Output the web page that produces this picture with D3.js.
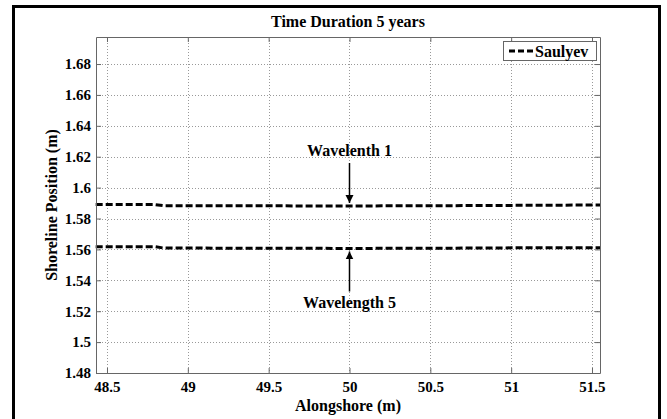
<!DOCTYPE html>
<html><head><meta charset="utf-8">
<script src="https://cdn.jsdelivr.net/npm/d3@7"></script>
<style>
html,body{margin:0;padding:0;background:#fff;}
svg{display:block;}
svg text{font-family:"Liberation Serif","Tinos","Times New Roman","DejaVu Serif",serif !important;font-weight:bold;fill:#000;}
</style></head>
<body>
<script>
// ---- data ----
const alongshore = [48.43, 48.6, 48.8, 48.85, 49.0, 49.2, 49.4, 49.6, 49.8, 50.0, 50.2, 50.4, 50.6, 50.8, 51.0, 51.2, 51.4, 51.55];
const wavelength1 = [1.5890, 1.5890, 1.5890, 1.5883, 1.5883, 1.5882, 1.5882, 1.5882, 1.5881, 1.5881, 1.5882, 1.5882, 1.5883, 1.5884, 1.5885, 1.5886, 1.5887, 1.5888];
const wavelength5 = [1.5617, 1.5617, 1.5617, 1.5609, 1.5609, 1.5608, 1.5607, 1.5607, 1.5607, 1.5606, 1.5607, 1.5607, 1.5608, 1.5609, 1.5610, 1.5610, 1.5611, 1.5611];
const xTicks = [48.5, 49, 49.5, 50, 50.5, 51, 51.5];
const yTicks = [1.48, 1.5, 1.52, 1.54, 1.56, 1.58, 1.6, 1.62, 1.64, 1.66, 1.68];
const xDomain = [48.432, 51.5495];
const yDomain = [1.48, 1.6975];
const titleText = "Time Duration 5 years";
const xLabel = "Alongshore (m)";
const yLabel = "Shoreline Position (m)";
const legendLabel = "Saulyev";
const annotations = [
  {label: "Wavelenth 1", x: 50, y: 1.5881, dir: "above"},
  {label: "Wavelength 5", x: 50, y: 1.5606, dir: "below"}
];

// ---- layout ----
const W = 667, H = 419;
const m = {left: 96, right: 600, top: 37, bottom: 373};
const FONT = "'Liberation Serif', Tinos, 'Times New Roman', 'DejaVu Serif', serif";

const svg = d3.select("body").append("svg").attr("width", W).attr("height", H)
  .style("font-family", FONT);

// outer frame
svg.append("rect").attr("x", 13.5).attr("y", 6.5).attr("width", 646).attr("height", 430)
  .attr("fill", "none").attr("stroke", "#000").attr("stroke-width", 3);

const x = d3.scaleLinear().domain(xDomain).range([m.left, m.right]);
const y = d3.scaleLinear().domain(yDomain).range([m.bottom, m.top]);

const g = svg.append("g");

// grid
g.selectAll(".gx").data(xTicks).join("line")
  .attr("x1", d => Math.round(x(d)) + 0.5).attr("x2", d => Math.round(x(d)) + 0.5)
  .attr("y1", m.top).attr("y2", m.bottom)
  .attr("stroke", "#999").attr("stroke-width", 1).attr("stroke-dasharray", "1,2");
g.selectAll(".gy").data(yTicks).join("line")
  .attr("y1", d => Math.round(y(d)) + 0.5).attr("y2", d => Math.round(y(d)) + 0.5)
  .attr("x1", m.left).attr("x2", m.right)
  .attr("stroke", "#999").attr("stroke-width", 1).attr("stroke-dasharray", "1,2");

// axes
const axColor = "#666";
const bottomAxis = d3.axisBottom(x).tickValues(xTicks).tickFormat(d3.format("")).tickSizeInner(-5).tickSizeOuter(0).tickPadding(8);
const leftAxis = d3.axisLeft(y).tickValues(yTicks).tickFormat(d3.format("")).tickSizeInner(-5).tickSizeOuter(0).tickPadding(5);
const topAxis = d3.axisTop(x).tickValues(xTicks).tickFormat("").tickSizeInner(-5).tickSizeOuter(0);
const rightAxis = d3.axisRight(y).tickValues(yTicks).tickFormat("").tickSizeInner(-5).tickSizeOuter(0);

function styleAxis(sel) {
  sel.attr("font-family", null).attr("font-size", null);
  sel.selectAll("path").attr("stroke", axColor);
  sel.selectAll("line").attr("stroke", axColor);
  sel.selectAll("text").style("font-size", "15px").style("font-family", FONT).style("font-weight", "bold").attr("fill", "#000");
}
styleAxis(svg.append("g").attr("transform", `translate(0,${m.bottom})`).call(bottomAxis));
styleAxis(svg.append("g").attr("transform", `translate(${m.left},0)`).call(leftAxis));
styleAxis(svg.append("g").attr("transform", `translate(0,${m.top})`).call(topAxis));
styleAxis(svg.append("g").attr("transform", `translate(${m.right},0)`).call(rightAxis));

// lines
const line = d3.line().x((d, i) => x(alongshore[i])).y(d => y(d));
[wavelength1, wavelength5].forEach(series => {
  g.append("path").datum(series).attr("d", line)
    .attr("fill", "none").attr("stroke", "#000").attr("stroke-width", 3)
    .attr("stroke-dasharray", "7,3");
});

// annotations with arrows
const defs = svg.append("defs");
defs.append("marker").attr("id", "arr").attr("viewBox", "0 0 10 10").attr("refX", 10).attr("refY", 5)
  .attr("markerWidth", 8).attr("markerHeight", 10).attr("markerUnits", "userSpaceOnUse").attr("orient", "auto")
  .append("path").attr("d", "M0,0 L10,5 L0,10 Z").attr("fill", "#000");

function txt(sel) { return sel.style("font-family", FONT).style("font-weight", "bold").style("font-size", "16px"); }

annotations.forEach(a => {
  const ax = x(a.x), ay = y(a.y);
  if (a.dir === "above") {
    svg.append("line").attr("x1", ax).attr("x2", ax).attr("y1", ay - 43).attr("y2", ay - 3)
      .attr("stroke", "#000").attr("stroke-width", 1.5).attr("marker-end", "url(#arr)");
    txt(svg.append("text").attr("x", ax).attr("y", ay - 50).attr("text-anchor", "middle")).text(a.label);
  } else {
    svg.append("line").attr("x1", ax).attr("x2", ax).attr("y1", ay + 43).attr("y2", ay + 3)
      .attr("stroke", "#000").attr("stroke-width", 1.5).attr("marker-end", "url(#arr)");
    txt(svg.append("text").attr("x", ax).attr("y", ay + 60).attr("text-anchor", "middle")).text(a.label);
  }
});

// legend
const lg = svg.append("g");
lg.append("rect").attr("x", 503.5).attr("y", 41.5).attr("width", 93).attr("height", 19)
  .attr("fill", "#fff").attr("stroke", axColor).attr("stroke-width", 1);
lg.append("line").attr("x1", 509).attr("x2", 533).attr("y1", 51).attr("y2", 51)
  .attr("stroke", "#000").attr("stroke-width", 3).attr("stroke-dasharray", "6,3");
txt(lg.append("text").attr("x", 535).attr("y", 56.5)).text(legendLabel);

// title and labels
txt(svg.append("text").attr("x", (m.left + m.right) / 2).attr("y", 27).attr("text-anchor", "middle")).text(titleText);
txt(svg.append("text").attr("x", (m.left + m.right) / 2).attr("y", 411).attr("text-anchor", "middle")).text(xLabel);
txt(svg.append("text").attr("transform", `translate(57,${(m.top + m.bottom) / 2}) rotate(-90)`).attr("text-anchor", "middle")).text(yLabel);
</script>
</body></html>
